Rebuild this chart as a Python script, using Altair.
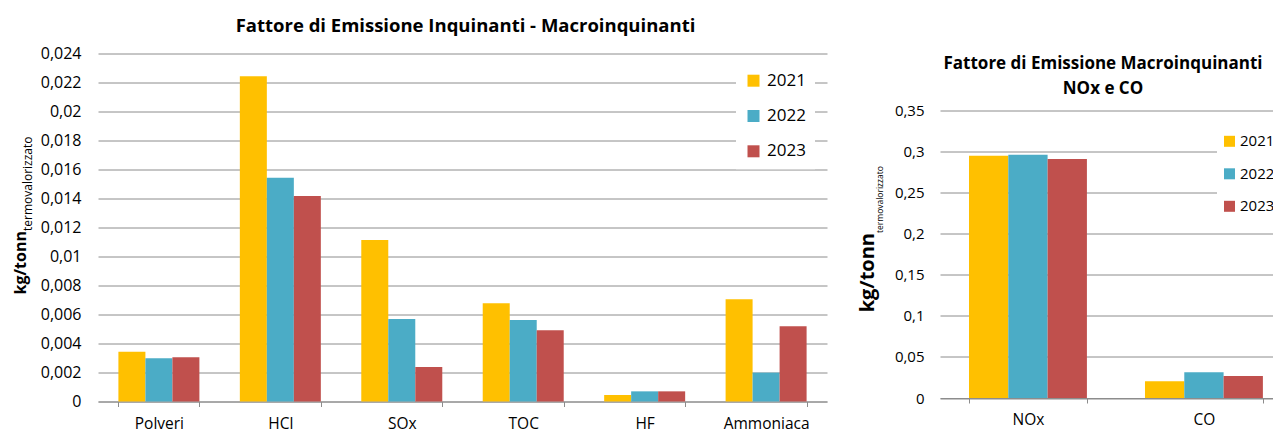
import altair as alt
import pandas as pd

FONT = "Open Sans"
GRID = "#8C8C8C"

years = ["2021", "2022", "2023"]
colors = ["#FFC000", "#4BACC6", "#C0504D"]

left_cats = ["Polveri", "HCl", "SOx", "TOC", "HF", "Ammoniaca"]
l2021 = [0.00343, 0.02243, 0.01114, 0.00677, 0.00045, 0.00705]
l2022 = [0.00298, 0.01543, 0.00569, 0.00562, 0.00070, 0.00199]
l2023 = [0.00305, 0.01417, 0.00238, 0.00491, 0.00070, 0.00519]
left_ticks = [0, 0.002, 0.004, 0.006, 0.008, 0.01, 0.012, 0.014, 0.016,
              0.018, 0.02, 0.022, 0.024]

right_cats = ["NOx", "CO"]
r2021 = [0.2945, 0.0203]
r2022 = [0.2957, 0.0312]
r2023 = [0.2905, 0.0267]
right_ticks = [0, 0.05, 0.1, 0.15, 0.2, 0.25, 0.3, 0.35]

left_title = "Fattore di Emissione Inquinanti - Macroinquinanti"
right_title = ["Fattore di Emissione Macroinquinanti", "NOx e CO"]
ylab_main = "kg/tonn"
ylab_sub = "termovalorizzato"


def long_df(cats, a, b, c):
    rows = []
    for yr, vals in zip(years, [a, b, c]):
        for cat, v in zip(cats, vals):
            rows.append({"cat": cat, "year": yr, "val": v})
    return pd.DataFrame(rows)


df_left = long_df(left_cats, l2021, l2022, l2023)
df_right = long_df(right_cats, r2021, r2022, r2023)
label_expr = "replace(format(datum.value, '~g'), '.', ',')"
color_scale = alt.Scale(domain=years, range=colors)
one = pd.DataFrame({"a": [0]})


def ytitle(x_main, x_sub, y_join, fs_main, fs_sub):
    d_main = pd.DataFrame({"t": [ylab_main]})
    d_sub = pd.DataFrame({"t": [ylab_sub]})
    main = alt.Chart(d_main).mark_text(
        angle=270, align="right", baseline="alphabetic", font=FONT,
        fontWeight="bold", fontSize=fs_main, color="black"
    ).encode(x=alt.value(x_main), y=alt.value(y_join), text="t:N")
    sub = alt.Chart(d_sub).mark_text(
        angle=270, align="left", baseline="alphabetic", font=FONT,
        fontSize=fs_sub, color="black"
    ).encode(x=alt.value(x_sub), y=alt.value(y_join), text="t:N")
    return main, sub


# ---------- left chart ----------
left_bars = alt.Chart(df_left).mark_bar().encode(
    x=alt.X("cat:N", sort=left_cats,
            scale=alt.Scale(paddingInner=0.333, paddingOuter=0.168),
            axis=alt.Axis(title=None, labelAngle=0, tickBand="extent",
                          domain=True, domainColor=GRID, ticks=True,
                          tickColor=GRID, tickSize=5, labelPadding=10,
                          labelFontSize=15.5, labelFont=FONT,
                          labelColor="black", grid=False)),
    xOffset=alt.XOffset("year:N", sort=years),
    y=alt.Y("val:Q", scale=alt.Scale(domain=[0, 0.024], nice=False),
            axis=alt.Axis(title=None, values=left_ticks, labelExpr=label_expr,
                          domain=False, ticks=False, grid=True,
                          gridColor=GRID, labelPadding=17, labelFontSize=16,
                          labelFont=FONT, labelColor="black")),
    color=alt.Color("year:N", scale=color_scale,
                    legend=alt.Legend(title=None, orient="none", legendX=638,
                                      legendY=9.7, symbolType="square",
                                      symbolSize=144, symbolStrokeWidth=0,
                                      labelFontSize=17, labelFont=FONT,
                                      labelColor="black", rowPadding=17.3,
                                      padding=9, fillColor="white",
                                      labelOffset=5)),
)
lm, ls = ytitle(-72, -66.5, 177.5, 16, 12)
anchor = alt.Chart(one).mark_rect(color="white", opacity=1).encode(
    x=alt.value(-89.6), x2=alt.value(-88.6), y=alt.value(340), y2=alt.value(341)
)

left = alt.layer(anchor, left_bars, lm, ls).properties(
    width=729, height=348,
    title=alt.Title(left_title, font=FONT, fontSize=18.5, fontWeight="bold",
                    anchor="middle", frame="group", offset=10, dx=3,
                    color="black"),
)

# ---------- right chart ----------
right_bars = alt.Chart(df_right).mark_bar().encode(
    x=alt.X("cat:N", sort=right_cats,
            scale=alt.Scale(paddingInner=0.33, paddingOuter=0.131, align=0.629),
            axis=alt.Axis(title=None, labelAngle=0, tickBand="extent",
                          domain=True, domainColor=GRID, ticks=True,
                          tickColor=GRID, tickSize=5, labelPadding=9,
                          labelFontSize=15.5, labelFont=FONT,
                          labelColor="black", grid=False)),
    xOffset=alt.XOffset("year:N", sort=years),
    y=alt.Y("val:Q", scale=alt.Scale(domain=[0, 0.35], nice=False,
                                     range=[344.5, 56.5]),
            axis=alt.Axis(title=None, values=right_ticks, labelExpr=label_expr,
                          domain=False, ticks=False, grid=True,
                          gridColor=GRID, labelPadding=16, labelFontSize=15,
                          labelFont=FONT, labelColor="black")),
    color=alt.Color("year:N", scale=color_scale,
                    legend=alt.Legend(title=None, orient="none", legendX=282,
                                      legendY=80.3, symbolType="square",
                                      symbolSize=121, symbolStrokeWidth=0,
                                      labelFontSize=15, labelFont=FONT,
                                      labelColor="black", rowPadding=16.5,
                                      padding=0, labelOffset=3)),
)
legend_box = alt.Chart(one).mark_rect(color="white", opacity=1).encode(
    x=alt.value(277), x2=alt.value(340), y=alt.value(70.5), y2=alt.value(170.5)
)
rm, rs = ytitle(-65.6, -57, 179.5, 20, 8.5)

right = alt.layer(right_bars, legend_box, rm, rs).properties(
    width=340, height=344.5,
    title=alt.Title(right_title, font=FONT, fontSize=17, fontWeight="bold",
                    anchor="middle", frame="group", offset=0, dy=44.5,
                    dx=-7, lineHeight=24.7, color="black"),
)

chart = alt.hconcat(left, right, spacing=113, bounds="flush").resolve_scale(
    color="independent", xOffset="independent"
).resolve_legend(color="independent").configure_view(stroke=None).properties(
    padding={"left": 0, "top": 8.5, "right": -7, "bottom": 6}
)

chart.save("out.html", embed_options={"renderer": "svg", "actions": False})
